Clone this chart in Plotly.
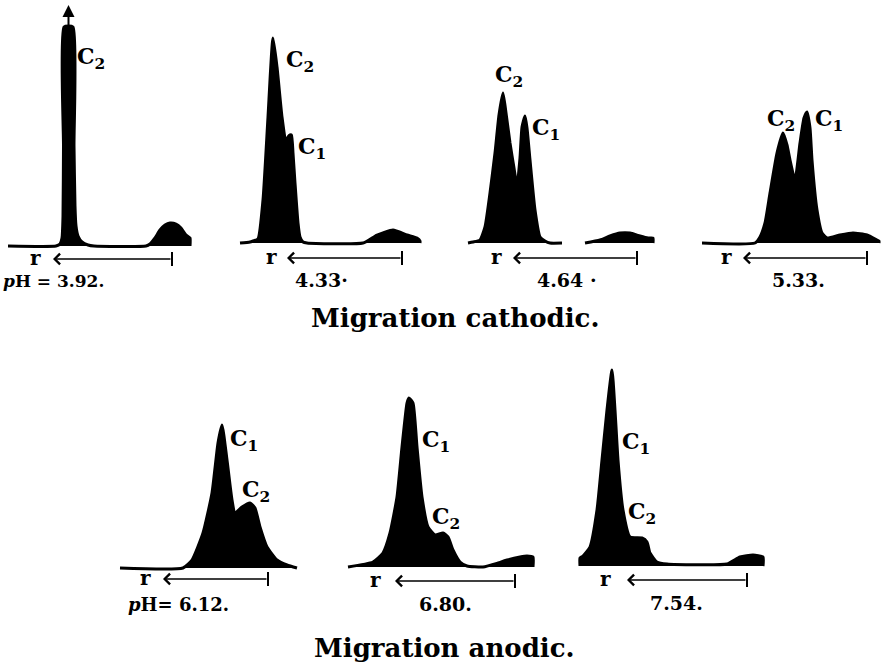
import plotly.graph_objects as go

W, H = 885, 669

# ---------------- data: density profiles (distance along strip, height above baseline) ----
P1_X = [0, 48, 52, 54, 55, 55.5, 56, 65, 66, 67, 68, 70, 74, 80, 86, 138, 142, 147, 152, 157, 162, 168, 173, 178, 182, 182]
P1_Y = [0, 0, 2, 8, 30, 100, 219, 219, 100, 40, 20, 10, 4, 1, 0, 0, 2, 8, 16, 21, 23, 22, 18, 11, 8, 0]

P2_X = [0, 10, 13, 18, 23, 28, 33, 37, 42, 46, 48, 50, 51.5, 53, 55, 58, 60, 63, 67, 123, 137, 153, 167, 177, 180, 180]
P2_Y = [0, 1, 2, 4, 43, 126, 205, 176, 126, 100, 106, 108, 108, 90, 60, 20, 6, 1, 0, 0, 8, 13, 8, 5, 2, 0]

P3_X = [0, 5, 12, 17, 22, 27, 31, 35, 38, 42, 46, 49, 52, 54, 57, 59, 62, 67, 72, 77, 82, 94]
P3_Y = [0, 1, 3, 16, 50, 90, 128, 150, 130, 100, 75, 57, 85, 116, 127, 115, 83, 33, 6, 2, 0, 0]
P3B_X = [117, 132, 142, 152, 162, 172, 180, 185, 185]
P3B_Y = [0, 3, 7, 10, 10, 7, 5, 5, 0]

P4_X = [0, 53, 58, 63, 68, 75, 81, 85, 88, 93, 98, 102, 105, 108, 110, 115, 120, 125, 138, 151, 165, 175, 177, 177]
P4_Y = [0, 0, 6, 20, 50, 90, 110, 98, 83, 63, 100, 125, 131, 115, 83, 33, 10, 5, 8, 10, 8, 3, 2, 0]

P5_X = [0, 63, 72, 83, 92, 98, 102, 107, 112, 115, 122, 130, 135, 140, 147, 157, 167, 177]
P5_Y = [0, 0, 8, 35, 75, 125, 143, 108, 68, 55, 61, 65, 60, 41, 21, 8, 3, 0]

P6_X = [0, 25, 35, 42, 49, 54, 59, 61, 65, 69, 74, 80, 87, 95, 100, 105, 112, 119, 135, 150, 159, 172, 179, 185, 185]
P6_Y = [0, 5, 14, 34, 70, 120, 164, 169, 164, 120, 70, 40, 32, 34, 30, 17, 5, 1, 0, 4, 7, 10, 11, 10, 0]

P7_X = [0, 0, 3, 10, 17, 22, 27, 32, 35, 38, 43, 50, 62, 67, 70, 77, 87, 147, 160, 173, 183, 183]
P7_Y = [0, 8, 10, 19, 56, 106, 156, 196, 156, 106, 56, 29, 28, 24, 13, 4, 2, 2, 9, 11, 9, 0]

PH_LABELS = ["<i>p</i>H = 3.92.", "4.33·", "4.64 ·", "5.33.", "<i>p</i>H= 6.12.", "6.80.", "7.54."]
PEAK_NAMES = [["C<sub>2</sub>"], ["C<sub>2</sub>", "C<sub>1</sub>"], ["C<sub>2</sub>", "C<sub>1</sub>"],
              ["C<sub>2</sub>", "C<sub>1</sub>"], ["C<sub>1</sub>", "C<sub>2</sub>"],
              ["C<sub>1</sub>", "C<sub>2</sub>"], ["C<sub>1</sub>", "C<sub>2</sub>"]]
TITLES = ["Migration cathodic.", "Migration anodic."]

# ---------------- layout (positions in the page) ----------------
PANEL_ORIGIN = [(8, 246), (240, 243), (468, 243), (702, 243), (120, 568), (348, 567), (580, 566)]
PEAK_LABEL_POS = [[(83, 188)], [(60, 182), (72, 95)], [(41, 167), (78, 114)], [(79, 123), (127, 123)],
                  [(124, 128), (136, 77)], [(88, 126), (98, 49)], [(56, 123), (62, 53)]]
ARROW_POS = [(27, 45, 164, -13), (31, 47, 162, -15), (28, 45, 169, -15), (24, 41, 165, -15),
             (25, 43, 148, -11), (27, 47, 167, -14), (25, 47, 167, -14)]
PH_POS = [(45, -35), (81, -37), (99, -37), (96, -37), (58, -36), (97, -37), (96, -37)]
PH_SIZE = [17, 19, 19, 19, 18, 19, 19]
TITLE_POS = [(455, 318), (444, 648)]

SERIES = [[(P1_X, P1_Y)], [(P2_X, P2_Y)], [(P3_X, P3_Y), (P3B_X, P3B_Y)], [(P4_X, P4_Y)],
          [(P5_X, P5_Y)], [(P6_X, P6_Y)], [(P7_X, P7_Y)]]

FONT = "DejaVu Serif"
fig = go.Figure()
annotations = []
layout_axes = {}

for i, (x0, base) in enumerate(PANEL_ORIGIN):
    n = i + 1
    xa = "x" if n == 1 else f"x{n}"
    ya = "y" if n == 1 else f"y{n}"
    left = max(0, x0 - 10)
    right = min(W, x0 + 200)
    top_px = max(0, base - 245)
    bot_px = base + 48
    layout_axes["xaxis" if n == 1 else f"xaxis{n}"] = dict(
        domain=[left / W, right / W], range=[left - x0, right - x0], visible=False,
        anchor=ya, fixedrange=True)
    layout_axes["yaxis" if n == 1 else f"yaxis{n}"] = dict(
        domain=[(H - bot_px) / H, (H - top_px) / H], range=[base - bot_px, base - top_px],
        visible=False, anchor=xa, fixedrange=True)

    for xs, ys in SERIES[i]:
        fig.add_trace(go.Scatter(
            x=xs, y=ys, xaxis=xa, yaxis=ya, mode="lines",
            line=dict(color="black", width=3, shape="spline", smoothing=0.5),
            fill="tozeroy", fillcolor="black", hoverinfo="skip", showlegend=False))

    # peak labels
    for name, (lx, ly) in zip(PEAK_NAMES[i], PEAK_LABEL_POS[i]):
        annotations.append(dict(x=lx, y=ly, xref=xa, yref=ya, text=name, showarrow=False,
                                font=dict(family=FONT, size=22, color="black", weight="bold"),
                                xanchor="center", yanchor="middle"))

    # start mark "r" and migration arrow
    rx, hx, tx, ay = ARROW_POS[i]
    annotations.append(dict(x=rx, y=ay + 1, xref=xa, yref=ya, text="r", showarrow=False,
                            font=dict(family=FONT, size=20, color="black", weight="bold"),
                            xanchor="center", yanchor="middle"))
    annotations.append(dict(x=hx, y=ay, xref=xa, yref=ya, ax=tx, ay=ay, axref=xa, ayref=ya,
                            text="", showarrow=True, arrowhead=4, arrowsize=1.3,
                            arrowwidth=1.6, arrowcolor="black", standoff=0, startstandoff=0))
    fig.add_trace(go.Scatter(x=[tx], y=[ay], xaxis=xa, yaxis=ya, mode="markers",
                             marker=dict(symbol="line-ns", size=10,
                                         line=dict(color="black", width=2)),
                             hoverinfo="skip", showlegend=False, cliponaxis=False))

    # pH label
    px_, py_ = PH_POS[i]
    annotations.append(dict(x=px_, y=py_, xref=xa, yref=ya, text=PH_LABELS[i], showarrow=False,
                            font=dict(family=FONT, size=PH_SIZE[i], color="black", weight="bold"),
                            xanchor="center", yanchor="middle"))

# off-scale arrow on the first peak
annotations.append(dict(x=60.5, y=241, xref="x", yref="y", ax=60.5, ay=219, axref="x", ayref="y",
                        text="", showarrow=True, arrowhead=2, arrowsize=1.2, arrowwidth=2,
                        arrowcolor="black", standoff=0, startstandoff=0))

for t, (tx, ty) in zip(TITLES, TITLE_POS):
    annotations.append(dict(x=tx / W, y=1 - ty / H, xref="paper", yref="paper", text=t,
                            showarrow=False,
                            font=dict(family=FONT, size=26, color="black", weight="bold"),
                            xanchor="center", yanchor="middle"))

fig.update_layout(
    width=W, height=H, autosize=False,
    margin=dict(l=0, r=0, t=0, b=0, pad=0),
    paper_bgcolor="white", plot_bgcolor="rgba(0,0,0,0)",
    annotations=annotations, showlegend=False, **layout_axes)

fig.write_html("out.html", config={"displayModeBar": False},
               post_script="document.body.style.margin='0';document.body.style.overflow='hidden';")
